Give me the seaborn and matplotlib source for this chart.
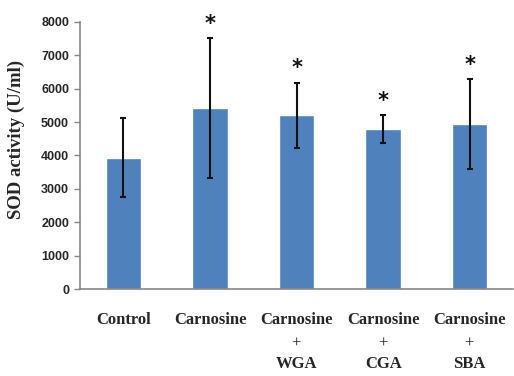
import matplotlib
matplotlib.use("Agg")
import matplotlib.pyplot as plt
import seaborn as sns
import pandas as pd

sns.set_theme(style="white")
plt.rcParams["mathtext.fontset"] = "custom"
plt.rcParams["mathtext.rm"] = "Liberation Serif"

groups = ["Control", "Carnosine", "Carnosine\n$\\mathrm{+}$\nWGA",
          "Carnosine\n$\\mathrm{+}$\nCGA", "Carnosine\n$\\mathrm{+}$\nSBA"]
sod = [3930, 5420, 5200, 4790, 4930]
sod_err = [1180, 2100, 980, 430, 1345]
signif = [False, True, True, True, True]

df = pd.DataFrame({"group": groups, "sod": sod})

fig = plt.figure(figsize=(5.14, 3.76), dpi=100)
ax = fig.add_axes([0.156, 0.2306, 0.842, 0.7117])

sns.barplot(data=df, x="group", y="sod", color="#4F81BD", saturation=1,
            width=0.41, ax=ax, errorbar=None)
ax.errorbar(range(len(groups)), sod, yerr=sod_err, fmt="none",
            ecolor="#111111", elinewidth=1.5, capsize=2.5, capthick=1.5)

for i, (v, e, s) in enumerate(zip(sod, sod_err, signif)):
    if s:
        ax.annotate("*", (i, v + e), xytext=(0, 3), textcoords="offset points",
                    ha="center", va="bottom", fontsize=15, fontweight="bold",
                    color="#111111")

ax.set_ylim(0, 8000)
ax.set_xlim(-0.5, len(groups) - 0.5)
ax.set_yticks(range(0, 8001, 1000))
ax.tick_params(axis="y", length=4, width=1, color="#868686", direction="out",
               left=True, pad=4, labelsize=9)
ax.tick_params(axis="x", length=0, pad=16)
for lab in ax.get_yticklabels():
    lab.set_fontweight("bold")
    lab.set_family("Liberation Sans")
for lab in ax.get_xticklabels():
    lab.set_fontweight("bold")
    lab.set_family("Liberation Serif")
    lab.set_fontsize(12)
    lab.set_linespacing(1.5)
    lab.set_va("top")

ax.set_xlabel("")
ax.set_ylabel("SOD activity (U/ml)", fontsize=13.5, fontweight="bold",
              family="Liberation Serif")
ax.yaxis.set_label_coords(-0.128, 0.56)

sns.despine(ax=ax)
for sp in ["left", "bottom"]:
    ax.spines[sp].set_color("#868686")
    ax.spines[sp].set_linewidth(1.2)

fig.savefig("out.png", dpi=100)
